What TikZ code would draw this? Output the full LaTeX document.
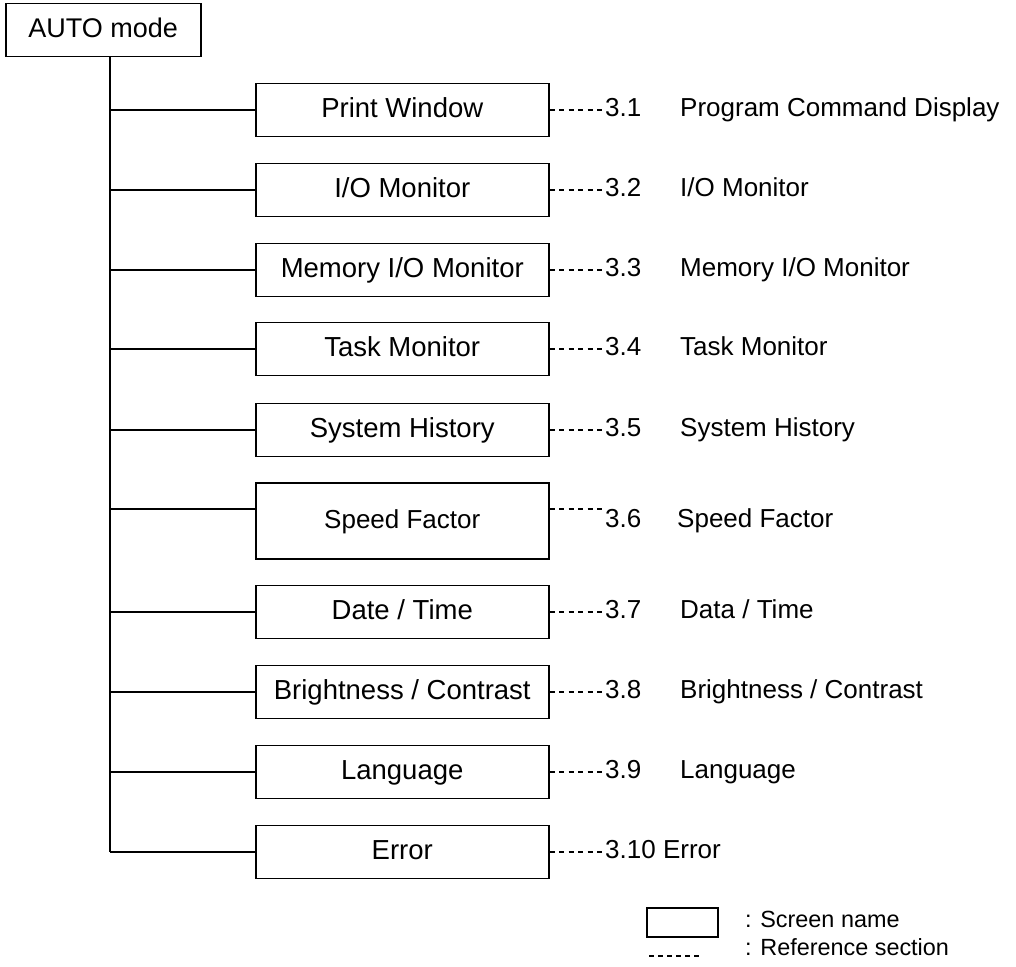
\documentclass[tikz,border=0pt]{standalone}
\usepackage{fontspec}
\setmainfont{Liberation Sans}
\tikzset{
  screen/.style={draw, line width=1.5pt, minimum width=293pt, minimum height=53pt, inner sep=0pt, anchor=west,
     font=\fontsize{27.5}{32}\selectfont, text height=19.5pt, text depth=5.5pt},
  reflabel/.style={anchor=west, inner sep=0pt, font=\fontsize{26}{30}\selectfont, text height=18.5pt, text depth=5.2pt},
  tree/.style={line width=1.4pt},
  refline/.style={line width=1.2pt, dash pattern=on 5pt off 4.5pt},
  legtext/.style={anchor=west, inner sep=0pt, font=\fontsize{23.4}{27}\selectfont, text height=16.6pt, text depth=4.7pt}
}
\begin{document}
\begin{tikzpicture}[x=1pt,y=-1pt]
\useasboundingbox (0,0) rectangle (1016,966);
\node[draw, line width=1.5pt, minimum width=195pt, minimum height=53pt, inner sep=0pt, anchor=north west,
  font=\fontsize{27}{32}\selectfont, text height=19.2pt, text depth=5.4pt] (auto) at (5,3) {AUTO mode};

\foreach \i/\y in {1/110,2/190,3/270,4/349,5/430,6/509,7/612,8/692,9/772,10/852}{
  \coordinate (t\i) at (110,\y);
  \coordinate (r\i) at (605,\y);
}
\draw[tree] (auto.south -| t1) -- (t10);

\node[screen] (b1) at (255,110) {Print Window};
\node[screen] (b2) at (255,190) {I/O Monitor};
\node[screen] (b3) at (255,270) {Memory I/O Monitor};
\node[screen] (b4) at (255,349) {Task Monitor};
\node[screen] (b5) at (255,430) {System History};
\node[screen, minimum height=76pt, font=\fontsize{26}{30}\selectfont] (b6) at (255,521) {Speed Factor};
\node[screen] (b7) at (255,612) {Date / Time};
\node[screen] (b8) at (255,692) {Brightness / Contrast};
\node[screen] (b9) at (255,772) {Language};
\node[screen] (b10) at (255,852) {Error};

\foreach \i in {1,...,10}{
  \draw[tree] (t\i) -- (t\i -| b\i.west);
  \draw[refline] (t\i -| b\i.east) -- (r\i);
}

\node[reflabel] (l1) at (605,110) {\makebox[75pt][l]{3.1}Program Command Display};
\node[reflabel] (l2) at (605,190) {\makebox[75pt][l]{3.2}I/O Monitor};
\node[reflabel] (l3) at (605,270) {\makebox[75pt][l]{3.3}Memory I/O Monitor};
\node[reflabel] (l4) at (605,349) {\makebox[75pt][l]{3.4}Task Monitor};
\node[reflabel] (l5) at (605,430) {\makebox[75pt][l]{3.5}System History};
\node[reflabel] (l6) at (605,521) {\makebox[72pt][l]{3.6}Speed Factor};
\node[reflabel] (l7) at (605,612) {\makebox[75pt][l]{3.7}Data / Time};
\node[reflabel] (l8) at (605,692) {\makebox[75pt][l]{3.8}Brightness / Contrast};
\node[reflabel] (l9) at (605,772) {\makebox[75pt][l]{3.9}Language};
\node[reflabel] (l10) at (605,852) {3.10 Error};

% legend
\node[draw, line width=1.5pt, minimum width=71pt, minimum height=29pt, inner sep=0pt, anchor=north west] (legbox) at (646,907) {};
\node[legtext] (legscreen) at (745,922) {: Screen name};
\coordinate (lega) at (649,956);
\coordinate (legb) at (700,956);
\draw[line width=1.1pt, dash pattern=on 5pt off 4pt] (lega) -- (legb);
\node[legtext] (legref) at (745,950) {: Reference section};
\end{tikzpicture}
\end{document}
